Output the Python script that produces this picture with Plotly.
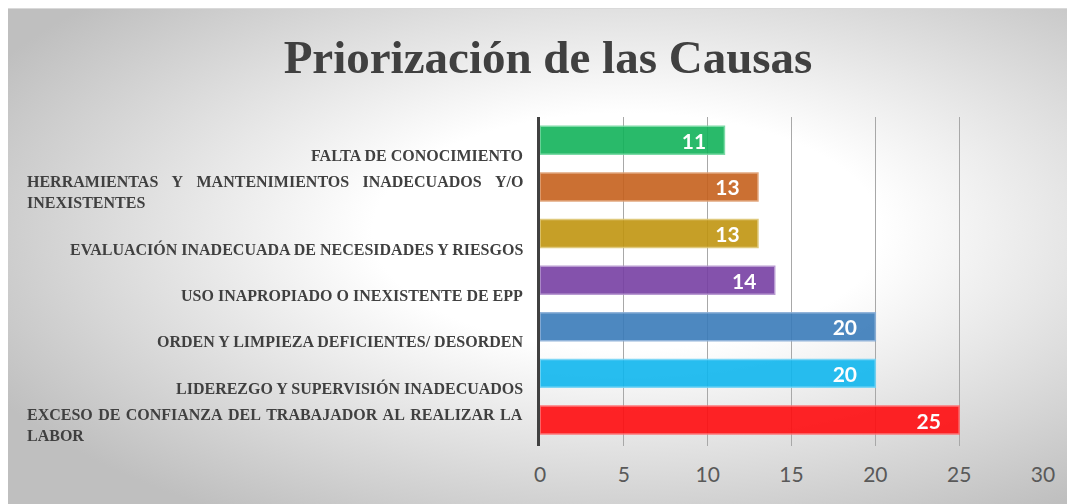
import base64
import plotly.graph_objects as go

# datos (de abajo hacia arriba, como en Excel)
causas = [
    "EXCESO DE CONFIANZA DEL TRABAJADOR AL REALIZAR LA LABOR",
    "LIDEREZGO Y SUPERVISIÓN INADECUADOS",
    "ORDEN Y LIMPIEZA DEFICIENTES/ DESORDEN",
    "USO INAPROPIADO O INEXISTENTE DE EPP",
    "EVALUACIÓN INADECUADA DE NECESIDADES Y RIESGOS",
    "HERRAMIENTAS Y MANTENIMIENTOS INADECUADOS Y/O INEXISTENTES",
    "FALTA DE CONOCIMIENTO",
]
frecuencia = [25, 20, 20, 14, 13, 13, 11]
colores = ["#FF0C0F", "#0FB6EE", "#397BB9", "#763FA3", "#C0950F", "#C6601C", "#11B35A"]
bordes = ["#FF6B6D", "#6FD3F5", "#86ACD6", "#B08FCC", "#DCC36E", "#E09D70", "#6ED69C"]
ticks_x = [0, 5, 10, 15, 20, 25, 30]

NB, TH, HS = "\u00a0", "\u2009", "\u200a"
# etiquetas del eje (texto justificado aproximado con espacios)
g1 = NB + HS
g2 = NB * 3 + HS
etiquetas = {
    causas[0]: g1.join("EXCESO DE CONFIANZA DEL TRABAJADOR AL REALIZAR LA".split()) + "<br>LABOR",
    causas[5]: g2.join("HERRAMIENTAS Y MANTENIMIENTOS INADECUADOS Y/O".split()) + "<br>INEXISTENTES",
}

fig = go.Figure()
fig.add_trace(go.Bar(
    y=causas, x=frecuencia, orientation="h",
    marker=dict(color=colores, line=dict(color=bordes, width=1.5)),
    opacity=0.9, width=0.6,
    text=frecuencia, texttemplate="%{x}" + NB * 3,
    textposition="inside", insidetextanchor="end", constraintext="none",
    textfont=dict(family="Lato", size=21, color="white", weight="bold"),
    hoverinfo="x+y",
))

# tamaño de la figura (la página añade 8px de margen)
W, H = 1067, 496
L, R, T, B = 532, 32, 109, 58
pw, ph = W - L - R, H - T - B

# fondo con degradado radial
svg = f"""<svg xmlns='http://www.w3.org/2000/svg' width='{W}' height='{H}' preserveAspectRatio='none'>
<defs><radialGradient id='g' cx='0.58' cy='0.45' r='0.68'>
<stop offset='0' stop-color='#ffffff'/><stop offset='0.35' stop-color='#ffffff'/>
<stop offset='1' stop-color='#bfbfbf'/></radialGradient></defs>
<rect width='{W}' height='{H}' fill='url(#g)'/>
<rect x='0' y='0' width='{W}' height='1' fill='#d9d9d9'/></svg>"""
src = "data:image/svg+xml;base64," + base64.b64encode(svg.encode()).decode()

fig.add_layout_image(
    source=src, xref="paper", yref="paper",
    x=-L / pw, y=(H - B) / ph, sizex=W / pw, sizey=H / ph,
    xanchor="left", yanchor="top", sizing="stretch", layer="below",
)

for c in causas:
    dos_lineas = c in etiquetas
    fig.add_annotation(
        x=(517 - L) / pw, xref="paper", y=c, yref="y",
        text=etiquetas.get(c, c), showarrow=False,
        xanchor="right", align="left" if dos_lineas else "right",
        yshift=-5 if dos_lineas else -15,
        font=dict(family="Liberation Serif", size=16, color="#404040", weight="bold"),
    )

fig.update_layout(
    width=W, height=H,
    margin=dict(l=L, r=R, t=T, b=B),
    paper_bgcolor="white", plot_bgcolor="rgba(0,0,0,0)",
    showlegend=False,
    title=dict(text="Priorización de las Causas", x=540 / W, xanchor="center",
               y=1 - 49 / H, yanchor="middle", yref="container",
               font=dict(family="Liberation Serif", size=47, color="#404040", weight="bold")),
    xaxis=dict(range=[0, 30], tickvals=ticks_x, showgrid=True, gridcolor="#a8a8a8", gridwidth=1,
               zeroline=False, showline=False, ticklabelstandoff=14,
               tickfont=dict(family="Lato", size=21, color="#595959")),
    yaxis=dict(showticklabels=False, showgrid=False, zeroline=False,
               showline=True, linecolor="#404040", linewidth=3),
    bargap=0.4,
)

fig.write_html("out.html")
